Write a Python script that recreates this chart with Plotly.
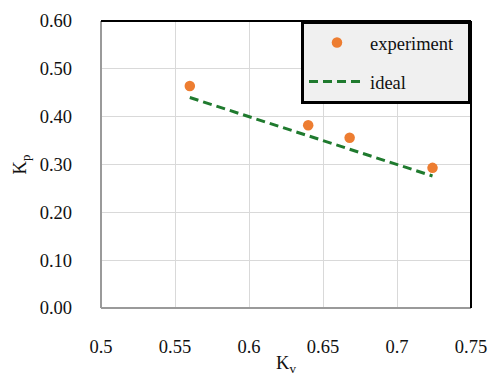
import plotly.graph_objects as go

kv = [0.56, 0.64, 0.668, 0.724]
kp_experiment = [0.464, 0.382, 0.356, 0.293]
kp_ideal = [0.44, 0.36, 0.332, 0.276]

x_ticks = [0.5, 0.55, 0.6, 0.65, 0.7, 0.75]
x_tick_text = ["0.5", "0.55", "0.6", "0.65", "0.7", "0.75"]
y_ticks = [0.0, 0.1, 0.2, 0.3, 0.4, 0.5, 0.6]
y_tick_text = ["0.00", "0.10", "0.20", "0.30", "0.40", "0.50", "0.60"]

FONT = "Times New Roman"
TXT = dict(family=FONT, size=18.5, color="#111")

fig = go.Figure()
fig.add_trace(go.Scatter(
    x=kv, y=kp_ideal, mode="lines", name="ideal",
    line=dict(color="#1f7a2e", width=3, dash="9px,5px"),
    legendrank=2, legendgroup="b",
))
fig.add_trace(go.Scatter(
    x=kv, y=kp_experiment, mode="markers", name="experiment\u00a0\u00a0",
    marker=dict(color="#ed7d31", size=10.5),
    legendrank=1, legendgroup="a",
))

fig.update_layout(
    width=488, height=380,
    margin=dict(l=101, r=17, t=21, b=72, autoexpand=False),
    paper_bgcolor="white", plot_bgcolor="white",
    font=TXT,
    showlegend=True,
    legend=dict(
        x=1, y=1, xanchor="right", yanchor="top",
        bgcolor="#f0f0f0", bordercolor="black", borderwidth=3,
        font=TXT, tracegroupgap=12, itemwidth=56,
    ),
    xaxis=dict(
        range=[0.5, 0.75], tickvals=x_ticks, ticktext=x_tick_text,
        tickfont=TXT, automargin=False,
        showgrid=True, gridcolor="#d9d9d9", gridwidth=1,
        zeroline=False, showline=False, ticks="", ticklabelstandoff=25,
        title=dict(text="K<sub>v</sub>", standoff=0, font=TXT),
    ),
    yaxis=dict(
        range=[0, 0.6], tickvals=y_ticks, ticktext=y_tick_text,
        tickfont=TXT, automargin=False,
        showgrid=True, gridcolor="#d9d9d9", gridwidth=1,
        zeroline=False, showline=False, ticks="", ticklabelstandoff=28,
        title=dict(text="K<sub>p</sub>", standoff=8, font=TXT),
    ),
    shapes=[
        dict(type="line", xref="paper", yref="paper", x0=0, y0=0, x1=0, y1=1,
             line=dict(color="#9a9a9a", width=2)),
        dict(type="line", xref="paper", yref="paper", x0=0, y0=0, x1=1, y1=0,
             line=dict(color="#9a9a9a", width=2)),
        dict(type="line", xref="paper", yref="paper", x0=0, y0=1, x1=1, y1=1,
             line=dict(color="black", width=2)),
        dict(type="line", xref="paper", yref="paper", x0=1, y0=0, x1=1, y1=1,
             line=dict(color="black", width=2)),
    ],
)

fig.write_html("out.html")
